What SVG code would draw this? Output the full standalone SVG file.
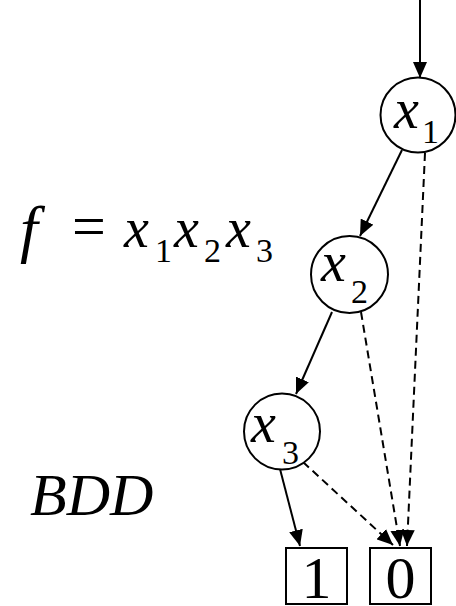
<svg xmlns="http://www.w3.org/2000/svg" width="456" height="606" viewBox="0 0 456 606">
<style>
.i{font-style:italic}
.n{fill:#fff;stroke:#000;stroke-width:2}
.e{fill:none;stroke:#000;stroke-width:2}
.d{stroke-dasharray:8,5}
</style>
<defs>
<marker id="a" markerUnits="userSpaceOnUse" markerWidth="16" markerHeight="14" refX="16" refY="7" orient="auto" viewBox="0 0 16 14">
<path d="M0,0 L16,7 L0,14 z" fill="#000"/>
</marker>
</defs>
<rect width="456" height="606" fill="#fff"/>
<g id="connectors">
<line class="e" x1="420" y1="0" x2="420" y2="78" marker-end="url(#a)"/>
<line class="e" x1="402" y1="150" x2="360" y2="236" marker-end="url(#a)"/>
<line class="e" x1="332" y1="312" x2="296" y2="394" marker-end="url(#a)"/>
<line class="e" x1="280" y1="469" x2="300" y2="546" marker-end="url(#a)"/>
<line class="e d" x1="425" y1="153" x2="407" y2="546" marker-end="url(#a)"/>
<line class="e d" x1="361" y1="312" x2="400" y2="546" marker-end="url(#a)"/>
<line class="e d" x1="303" y1="462" x2="393" y2="545" marker-end="url(#a)"/>
</g>
<g font-family="Liberation Serif, Times New Roman, DejaVu Serif, serif" fill="#000">
<g id="x1">
<circle class="n" cx="418" cy="115" r="37.5"/>
<text class="i" x="394" y="128" font-size="56">x</text>
<text x="422" y="143" font-size="34">1</text>
</g>
<g id="x2">
<circle class="n" cx="349.5" cy="274.5" r="38.5"/>
<text class="i" x="321" y="281" font-size="56">x</text>
<text x="351" y="303" font-size="34">2</text>
</g>
<g id="x3">
<circle class="n" cx="282" cy="431.5" r="38"/>
<text class="i" x="251" y="442" font-size="56">x</text>
<text x="282" y="464" font-size="34">3</text>
</g>
<g id="one">
<rect class="n" x="286" y="548" width="61" height="56"/>
<text x="316.5" y="598" font-size="60" text-anchor="middle">1</text>
</g>
<g id="zero">
<rect class="n" x="370" y="548" width="61" height="56"/>
<text x="400.5" y="598" font-size="60" text-anchor="middle">0</text>
</g>
<g id="formula">
<text class="i" x="20" y="250" font-size="64">f</text>
<text x="72" y="246" font-size="60">=</text>
<text class="i" x="124" y="247" font-size="56">x</text>
<text x="155" y="262" font-size="34">1</text>
<text class="i" x="174" y="247" font-size="56">x</text>
<text x="204" y="262" font-size="34">2</text>
<text class="i" x="226" y="247" font-size="56">x</text>
<text x="256" y="262" font-size="34">3</text>
</g>
<g id="label">
<text class="i" x="30" y="515" font-size="60">BDD</text>
</g>
</g>
</svg>
